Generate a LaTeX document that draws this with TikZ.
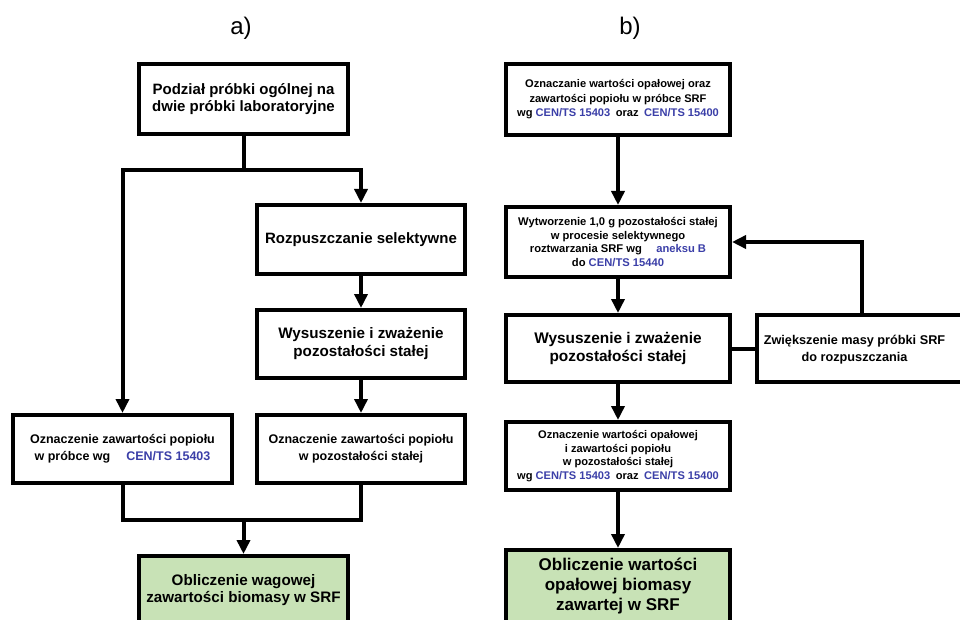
\documentclass[tikz,border=0pt]{standalone}
\usepackage{fontspec}
\setmainfont{Liberation Sans}
\usetikzlibrary{arrows.meta,calc}
\definecolor{cenblue}{HTML}{3B3FA8}
\definecolor{resgreen}{HTML}{C8E2B6}
\newcommand{\cen}[1]{{\color{cenblue}#1}}
\tikzset{
  box/.style={draw=black, line width=4pt, fill=white, rectangle, inner sep=0pt, align=center, font=\bfseries},
  resbox/.style={box, fill=resgreen},
  conn/.style={line width=4pt, line cap=rect},
  arr/.style={line width=4pt, -{Triangle[length=14pt,width=13pt]}},
  lbl/.style={font=\fontsize{24}{28}\selectfont}
}
\begin{document}
\begin{tikzpicture}[x=1pt,y=-1pt]
\useasboundingbox (0,0) rectangle (960,620);
% labels
\node[lbl] (la) at (241,28) {a)};
\node[lbl] (lb) at (630,28) {b)};
% panel a
\node[box, minimum width=209pt, minimum height=70pt, font=\bfseries\fontsize{15}{17}\selectfont] (A1) at (243.5,99) {Podział próbki ogólnej na\\dwie próbki laboratoryjne};
\node[box, minimum width=208pt, minimum height=69pt, font=\bfseries\fontsize{15}{17}\selectfont] (A2) at (361,239.5) {Rozpuszczanie selektywne};
\node[box, minimum width=208pt, minimum height=68pt, font=\bfseries\fontsize{15.2}{18}\selectfont] (A3) at (361,344) {Wysuszenie i zważenie\\pozostałości stałej};
\node[box, minimum width=219pt, minimum height=68pt, font=\bfseries\fontsize{12.5}{17}\selectfont] (A4) at (122.5,449) {Oznaczenie zawartości popiołu\\w próbce wg \quad\cen{CEN/TS 15403}};
\node[box, minimum width=208pt, minimum height=68pt, font=\bfseries\fontsize{12.5}{17}\selectfont] (A5) at (361,449) {Oznaczenie zawartości popiołu\\w pozostałości stałej};
\node[resbox, minimum width=209pt, minimum height=68pt, font=\bfseries\fontsize{15.2}{17.5}\selectfont] (A6) at (243.5,590) {Obliczenie wagowej\\zawartości biomasy w SRF};
\coordinate (s1) at (243.5,170);
\coordinate (j1) at (243.5,520);
\draw[conn] (A1.south) -- (s1);
\draw[arr] (s1) -| (A2.north);
\draw[arr] (s1) -| (A4.north);
\draw[arr] (A2.south) -- (A3.north);
\draw[arr] (A3.south) -- (A5.north);
\draw[conn] (A4.south) |- (j1) -| (A5.south);
\draw[arr] (j1) -- (A6.north);
% panel b
\node[box, minimum width=224pt, minimum height=71pt, font=\bfseries\fontsize{11.1}{14.5}\selectfont] (B1) at (618,99.5) {Oznaczanie wartości opałowej oraz\\zawartości popiołu w próbce SRF\\wg \cen{CEN/TS 15403}\enspace oraz\enspace\cen{CEN/TS 15400}};
\node[box, minimum width=224pt, minimum height=70pt, font=\bfseries\fontsize{11.2}{13.7}\selectfont] (B2) at (618,242) {Wytworzenie 1,0 g pozostałości stałej\\w procesie selektywnego\\roztwarzania SRF wg \quad\cen{aneksu B}\\do \cen{CEN/TS 15440}};
\node[box, minimum width=224pt, minimum height=67pt, font=\bfseries\fontsize{15.4}{18}\selectfont] (B3) at (618,348.5) {Wysuszenie i zważenie\\pozostałości stałej};
\node[box, minimum width=250pt, minimum height=67pt, anchor=west] (B4) at (755,348.5) {};
\node[font=\bfseries\fontsize{12.7}{17}\selectfont, align=center] (B4t) at (854.5,349.5) {Zwiększenie masy próbki SRF\\do rozpuszczania};
\node[box, minimum width=224pt, minimum height=68pt, font=\bfseries\fontsize{11.1}{13.7}\selectfont] (B5) at (618,456) {Oznaczenie wartości opałowej\\i zawartości popiołu\\w pozostałości stałej\\wg \cen{CEN/TS 15403}\enspace oraz\enspace\cen{CEN/TS 15400}};
\node[resbox, minimum width=224pt, minimum height=72pt, font=\bfseries\fontsize{17}{20}\selectfont] (B6) at (618,586) {Obliczenie wartości\\opałowej biomasy\\zawartej w SRF};
\draw[arr] (B1.south) -- (B2.north);
\draw[arr] (B2.south) -- (B3.north);
\draw[conn] (B3.east) -- (B4.west);
\draw[arr] ([xshift=107pt]B4.north west) |- (B2.east);
\draw[arr] (B3.south) -- (B5.north);
\draw[arr] (B5.south) -- (B6.north);
\end{tikzpicture}
\end{document}
